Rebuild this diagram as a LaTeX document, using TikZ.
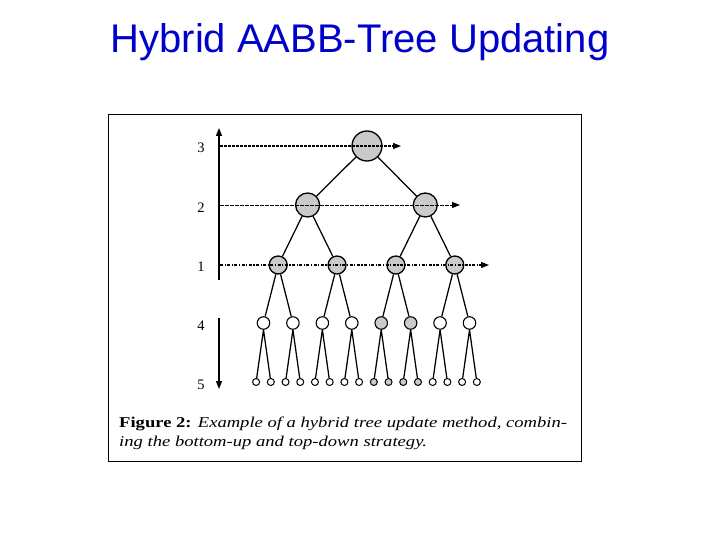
\documentclass[tikz,border=0pt]{standalone}
\usepackage{fontspec}
\setmainfont{Liberation Serif}
\newfontfamily\titlefont{Liberation Sans}
\usetikzlibrary{arrows.meta}
\definecolor{titleblue}{RGB}{0,0,204}
\definecolor{nodegray}{RGB}{200,202,204}
\tikzset{
  tn/.style={circle, draw=black, line width=1.3pt, inner sep=0pt, fill=nodegray},
  tn3/.style={tn, minimum size=30pt},
  tn2/.style={tn, minimum size=24pt},
  tn1/.style={tn, minimum size=18pt},
  tn4/.style={tn, minimum size=12.5pt, line width=1.1pt},
  tn5/.style={tn, minimum size=7pt, line width=1pt},
  wn/.style={fill=white},
  edge/.style={line width=1.25pt},
  lvl/.style={font=\fontsize{14.5}{16}\selectfont, anchor=base},
  tip/.style={-{Triangle[length=8pt,width=6pt]}},
  l3line/.style={tip, line width=1.3pt, dash pattern=on 2.5pt off 1.5pt},
  l2line/.style={tip, line width=0.9pt, dash pattern=on 3.5pt off 1.5pt},
  l1line/.style={tip, line width=1.3pt, dash pattern=on 3pt off 1.5pt on 1.2pt off 1.5pt},
  captext/.style={anchor=base west, inner sep=0pt, font=\fontsize{15}{17}\selectfont},
}
\begin{document}
\begin{tikzpicture}[x=1pt,y=-1pt]
\useasboundingbox (0,0) rectangle (720,540);
\node[font=\titlefont\fontsize{40}{46}\selectfont, text=titleblue, anchor=base] (title) at (360,53) {Hybrid AABB-Tree Updating};
\node[draw=black, line width=0.8pt, minimum width=473pt, minimum height=347pt, anchor=north west, inner sep=0pt] (frame) at (108,114) {};
% tree nodes
\node[tn3] (r) at (367,146) {};
\foreach \m in {0,1} {
  \node[tn2] (b\m) at ({307.6+117.7*\m},205) {};
}
\foreach \k in {0,...,3} {
  \node[tn1] (c\k) at ({278.2+58.86*\k},265) {};
}
\foreach \i in {0,...,7} {
  \pgfmathsetmacro{\xx}{263.5+29.43*\i}
  \ifnum\i=4 \node[tn4] (d\i) at (\xx,323) {};
  \else\ifnum\i=5 \node[tn4] (d\i) at (\xx,323) {};
  \else \node[tn4,wn] (d\i) at (\xx,323) {};
  \fi\fi
}
\foreach \j in {0,...,15} {
  \pgfmathsetmacro{\xx}{256.1+14.715*\j}
  \ifnum\j>7 \ifnum\j<12 \node[tn5] (e\j) at (\xx,382) {};
    \else \node[tn5,wn] (e\j) at (\xx,382) {}; \fi
  \else \node[tn5,wn] (e\j) at (\xx,382) {}; \fi
}
% edges
\draw[edge] (r) -- (b0) (r) -- (b1);
\draw[edge] (b0) -- (c0) (b0) -- (c1) (b1) -- (c2) (b1) -- (c3);
\foreach \k/\a/\b in {0/0/1,1/2/3,2/4/5,3/6/7} {
  \draw[edge] (c\k) -- (d\a) (c\k) -- (d\b);
}
\foreach \i/\a/\b in {0/0/1,1/2/3,2/4/5,3/6/7,4/8/9,5/10/11,6/12/13,7/14/15} {
  \draw[edge] (d\i.south) -- (e\a) (d\i.south) -- (e\b);
}
% axis
\coordinate (ax3) at (220,146);
\coordinate (ax2) at (220,205);
\coordinate (ax1) at (220,265);
\coordinate (e3) at (401,146);
\coordinate (e2) at (460,205);
\coordinate (e1) at (489,265);
\coordinate (uplow) at (219,280);
\coordinate (uptop) at (219,128);
\coordinate (dntop) at (219,318);
\coordinate (dnbot) at (219,389);
\draw[tip, line width=1.4pt] (uplow) -- (uptop);
\draw[tip, line width=1.4pt] (dntop) -- (dnbot);
\draw[l3line] (ax3) -- (e3);
\draw[l2line] (ax2) -- (e2);
\draw[l1line] (ax1) -- (e1);
% level labels
\node[lvl] (t3) at (201,153) {3};
\node[lvl] (t2) at (201,213) {2};
\node[lvl] (t1) at (201,271) {1};
\node[lvl] (t4) at (201,330) {4};
\node[lvl] (t5) at (201,389) {5};
% caption
\node[captext] (cap1) at (119,427) {\scalebox{1.24}[1]{\textbf{Figure 2:} \textit{Example of a hybrid tree update method, combin-}}};
\node[captext] (cap2) at (119,446) {\scalebox{1.24}[1]{\textit{ing the bottom-up and top-down strategy.}}};
\end{tikzpicture}
\end{document}
